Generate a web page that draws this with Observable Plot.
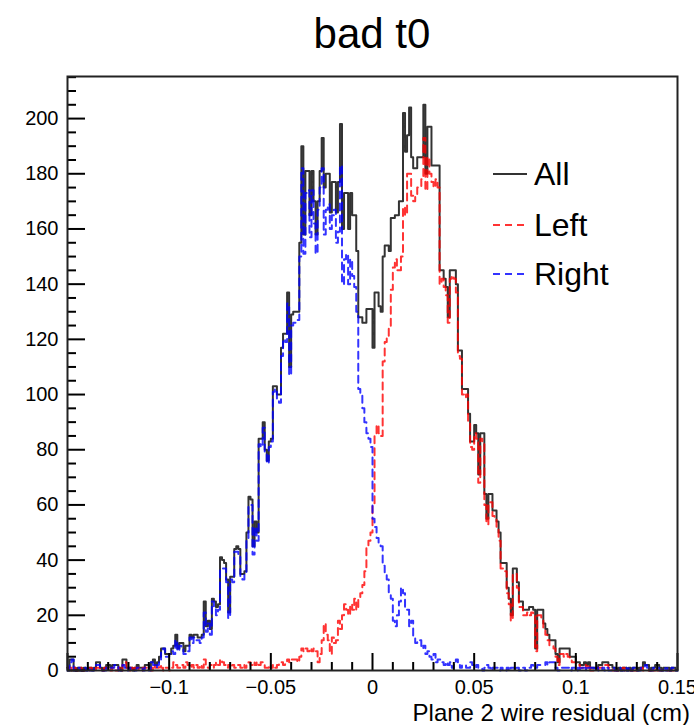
<!DOCTYPE html>
<html><head><meta charset="utf-8">
<script src="https://cdn.jsdelivr.net/npm/d3@7"></script>
<script src="https://cdn.jsdelivr.net/npm/@observablehq/plot@0.6"></script>
<style>
html,body{margin:0;padding:0;background:#fff;}
#wrap{position:relative;width:694px;height:725px;overflow:hidden;font-family:"Liberation Sans",Arial,Helvetica,sans-serif;}
#overlay{position:absolute;left:0;top:0;pointer-events:none;}
</style></head>
<body><div id="wrap"></div>
<script>
// Histogram binning: 300 bins of 0.001 cm from -0.15 to 0.15
const binLow = -0.15;
const binWidth = 0.001;
const titleText = "bad t0";
const xAxisTitle = "Plane 2 wire residual (cm)";
const seriesNames = ["All", "Left", "Right"];
const seriesColors = ["#000000", "#ff0000", "#0000ff"];

const allCounts = [
1,4,4,1,0,1,1,0,1,0, 1,1,0,1,3,3,1,0,1,2, 2,1,2,2,2,1,0,4,4,1, 1,1,0,1,2,1,1,1,2,2,
1,3,4,2,3,5,8,8,6,6, 6,8,9,13,8,10,10,7,9,9, 13,12,13,13,12,12,13,25,16,18, 15,26,25,23,24,41,40,39,33,21,
34,34,44,45,44,35,35,36,50,63, 62,45,54,50,84,84,90,80,76,83, 84,103,103,100,100,117,122,122,137,110,
129,130,130,130,155,190,158,181,181,165, 181,170,158,170,181,193,175,180,180,166, 177,177,166,177,198,160,173,173,160,173,
165,165,152,128,128,126,126,131,131,131, 117,137,137,132,130,150,154,154,152,164, 164,165,165,170,170,202,188,194,204,186,
182,182,186,186,186,205,180,197,197,183, 183,183,183,145,145,142,139,128,145,145, 145,140,116,116,102,102,102,93,83,83,
89,86,71,86,86,64,55,64,64,58, 58,54,50,39,39,39,30,26,20,37, 37,32,25,25,22,22,22,23,23,22,
8,22,22,22,17,15,13,11,11,11, 6,3,8,8,8,8,8,5,5,5, 3,3,2,2,3,2,3,1,1,1,
1,2,2,3,3,3,2,2,1,1, 0,1,0,1,1,0,1,0,1,1, 0,1,1,3,2,2,0,1,1,2, 2,1,0,1,1,1,0,1,1,0
];

const leftCounts = [
1,1,0,1,0,0,1,0,0,0, 0,1,0,0,1,1,0,0,1,1, 1,0,1,0,0,1,0,2,3,1, 0,1,0,1,1,0,0,1,1,1,
1,0,2,1,1,2,1,0,1,1, 0,1,3,2,1,1,2,1,3,2, 1,2,1,2,1,2,1,4,2,1, 2,1,2,3,2,4,3,2,1,2,
1,2,1,2,2,1,2,1,2,3, 2,3,2,3,2,3,2,1,1,2, 1,2,1,2,3,3,2,3,4,3,
4,4,4,3,5,8,7,8,7,8, 7,8,7,3,6,11,17,13,11,6, 12,10,11,18,15,20,24,22,20,24,
22,26,22,26,28,31,36,45,47,50, 60,85,89,86,85,112,119,121,124,138, 146,149,145,145,150,168,165,180,180,172,
170,172,175,175,178,193,174,186,180,177, 175,178,175,140,142,139,136,126,142,143, 142,137,114,113,100,99,100,90,81,80,
86,84,68,84,83,60,53,61,61,56, 55,52,47,37,37,36,28,24,18,35, 35,30,23,23,20,20,21,20,21,20,
7,20,20,19,15,13,11,9,9,8, 5,2,6,6,5,6,5,4,3,3, 2,2,1,1,2,1,2,0,0,0,
0,1,1,2,2,2,1,1,0,0, 0,0,0,1,0,0,0,0,0,0, 0,0,1,0,0,0,0,0,0,1, 0,0,0,0,0,0,0,0,0,0
];

const rightCounts = [
0,3,4,0,0,1,0,0,1,0, 1,0,0,1,2,2,1,0,0,1, 1,1,1,2,2,0,0,2,1,0, 1,0,0,0,1,1,1,0,1,1,
0,3,2,1,2,3,7,8,5,5, 6,7,6,11,7,9,8,6,6,7, 12,10,12,11,11,10,12,21,14,17, 13,25,23,20,22,37,37,37,32,19,
33,32,43,43,42,34,33,35,48,60, 60,42,52,47,82,81,88,79,75,81, 83,101,102,98,97,114,120,119,133,107,
125,126,126,127,150,182,151,173,174,157, 174,162,151,167,175,182,158,167,169,160, 165,167,155,159,183,140,149,151,140,149,
143,139,130,102,100,95,90,86,84,81, 55,52,48,46,45,38,35,33,28,26, 18,16,20,25,30,28,23,22,16,18,
12,10,11,11,8,9,6,7,5,4, 6,3,4,4,3,2,3,2,3,1, 2,4,3,1,2,2,1,1,3,2,
1,2,1,1,0,1,2,1,0,1, 1,1,0,1,0,0,1,0,1,1, 0,1,0,1,1,0,1,1,2,1,
1,2,2,2,2,3,2,3,3,3, 1,0,1,1,1,1,1,0,1,1, 0,1,0,1,1,0,1,1,1,0,
1,0,0,1,0,1,0,0,1,0, 0,1,0,0,1,0,1,0,1,1, 0,0,1,1,2,1,0,0,1,1, 1,0,0,1,0,1,0,1,0,0
];

const yMajorTicks = [0,20,40,60,80,100,120,140,160,180,200];
const yMinorTicks = [5,10,15,25,30,35,45,50,55,65,70,75,85,90,95,105,110,115,125,130,135,145,150,155,165,170,175,185,190,195,205,210,215];
const xMajorTicks = [-0.15,-0.1,-0.05,0,0.05,0.1,0.15];
const xMinorTicks = [-0.14,-0.13,-0.12,-0.11,-0.09,-0.08,-0.07,-0.06,-0.04,-0.03,-0.02,-0.01,0.01,0.02,0.03,0.04,0.06,0.07,0.08,0.09,0.11,0.12,0.13,0.14];
const xTickLabels = [-0.1,-0.05,0,0.05,0.1,0.15];
const xDomain = [-0.15, 0.15];
const yDomain = [0, 215.25];

function steps(counts) {
  const pts = counts.map((c, i) => ({x: binLow + i * binWidth, y: c}));
  pts.push({x: binLow + counts.length * binWidth, y: counts[counts.length - 1]});
  return pts;
}
const fmtX = d => d === 0 ? "0" : (d < 0 ? "\u2212" : "") + Math.abs(d);

const dash = "7,5";
const plot = Plot.plot({
  width: 694, height: 725,
  marginLeft: 67, marginRight: 17, marginTop: 76, marginBottom: 55,
  x: {domain: xDomain},
  y: {domain: yDomain},
  style: {fontFamily: "Liberation Sans, Arial, Helvetica, sans-serif", fontSize: "20px", color: "#000", background: "#fff"},
  marks: [
    Plot.line(steps(allCounts), {x: "x", y: "y", curve: "step-after", stroke: seriesColors[0], strokeWidth: 2, strokeOpacity: 0.8}),
    Plot.line(steps(leftCounts), {x: "x", y: "y", curve: "step-after", stroke: seriesColors[1], strokeWidth: 2, strokeDasharray: dash, strokeOpacity: 0.8}),
    Plot.line(steps(rightCounts), {x: "x", y: "y", curve: "step-after", stroke: seriesColors[2], strokeWidth: 2, strokeDasharray: dash, strokeOpacity: 0.8}),
    Plot.axisY({ticks: yMajorTicks, tickSize: -18, text: null, label: null, strokeWidth: 2}),
    Plot.axisY({ticks: yMinorTicks, tickSize: -9, text: null, label: null, strokeWidth: 2}),
    Plot.axisY({ticks: yMajorTicks, tickSize: 0, tickPadding: 9, label: null, tickFormat: d => String(d)}),
    Plot.axisX({ticks: xMajorTicks, tickSize: -17, text: null, label: null, strokeWidth: 2}),
    Plot.axisX({ticks: xMinorTicks, tickSize: -8, text: null, label: null, strokeWidth: 2}),
    Plot.axisX({ticks: xTickLabels, tickSize: 0, tickPadding: 9, label: null, tickFormat: fmtX}),
    Plot.frame({stroke: "#222", strokeWidth: 2})
  ]
});
const wrap = document.getElementById("wrap");
wrap.appendChild(plot);

// Title, axis title and legend overlay
const ov = d3.select(wrap).append("svg").attr("id", "overlay").attr("width", 694).attr("height", 725)
  .style("font-family", "Liberation Sans, Arial, Helvetica, sans-serif");
ov.append("text").attr("x", 372).attr("y", 48).attr("text-anchor", "middle").attr("font-size", 42).text(titleText);
ov.append("text").attr("x", 690).attr("y", 721).attr("text-anchor", "end").attr("font-size", 24).text(xAxisTitle);
const legY = [174, 225, 274];
seriesNames.forEach((name, i) => {
  ov.append("line").attr("x1", 493).attr("x2", 527).attr("y1", legY[i]).attr("y2", legY[i])
    .attr("stroke", seriesColors[i]).attr("stroke-width", 2).attr("stroke-opacity", 0.8)
    .attr("stroke-dasharray", i === 0 ? null : dash);
  ov.append("text").attr("x", 534).attr("y", legY[i] + 11).attr("font-size", 32).text(name);
});
</script>
</body></html>
